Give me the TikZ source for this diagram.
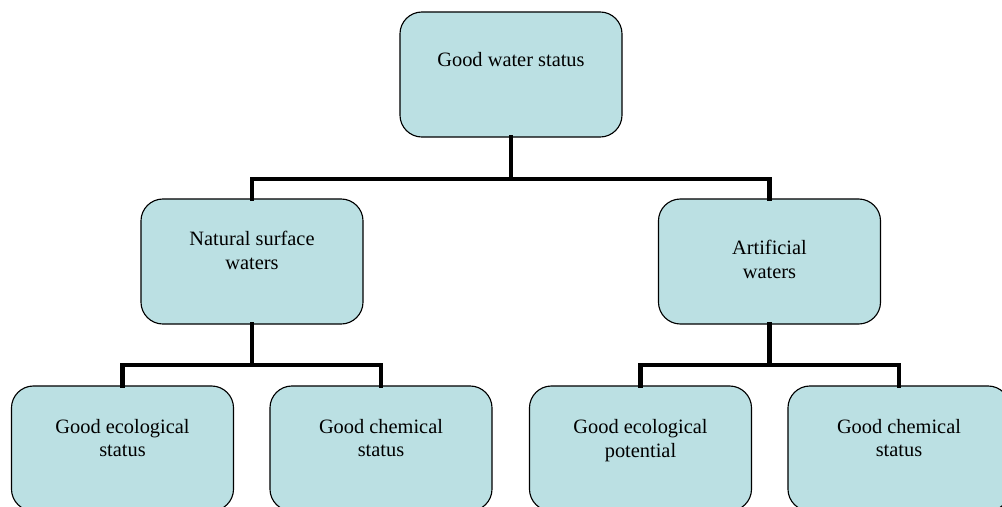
\documentclass[tikz,border=0pt]{standalone}
\usepackage{fontspec}
\setmainfont{Liberation Serif}
\usepackage{xcolor}
\definecolor{paleTeal}{RGB}{187,224,227}

\begin{document}
\begin{tikzpicture}[x=0.025cm, y=-0.025cm,
  statusbox/.style={draw=black, line width=0.8pt, fill=paleTeal, rounded corners=0.55cm,
    minimum width=5.55cm, minimum height=3.125cm, inner sep=0pt},
  boxlabel/.style={align=center, inner sep=0pt, font=\fontsize{14.5}{17}\selectfont},
  branch/.style={line width=3.2pt, line cap=rect}]
	\useasboundingbox (0,0) rectangle (1002,507);
	\clip (0,0) rectangle (1002,507);
	% boxes
	\node[statusbox] (water) at (511,74.5) {};
	\node[statusbox] (natural) at (252,261.5) {};
	\node[statusbox] (artificial) at (769.5,261.5) {};
	\node[statusbox] (natEco) at (122.5,448.5) {};
	\node[statusbox] (natChem) at (381,448.5) {};
	\node[statusbox] (artEco) at (640.5,448.5) {};
	\node[statusbox] (artChem) at (899,448.5) {};
	% labels
	\node[boxlabel] (waterText) at (511,60) {Good water status};
	\node[boxlabel] (naturalText) at (252,250) {Natural surface\\waters};
	\node[boxlabel] (artificialText) at (769.5,259) {Artificial\\waters};
	\node[boxlabel] (natEcoText) at (122.5,438) {Good ecological\\status};
	\node[boxlabel] (natChemText) at (381,438) {Good chemical\\status};
	\node[boxlabel] (artEcoText) at (640.5,441) {Good ecological\\potential};
	\node[boxlabel] (artChemText) at (899,438) {Good chemical\\status};
	% connectors
	\coordinate (busTop) at (511,179);
	\coordinate (busNat) at (252,365);
	\coordinate (busArt) at (769.5,365);
	\draw[branch] (water.south) -- (busTop);
	\draw[branch] (natural.north) |- (busTop) -| (artificial.north);
	\draw[branch] (natural.south) -- (busNat);
	\draw[branch] (natEco.north) |- (busNat) -| (natChem.north);
	\draw[branch] (artificial.south) -- (busArt);
	\draw[branch] (artEco.north) |- (busArt) -| (artChem.north);
\end{tikzpicture}
\end{document}
